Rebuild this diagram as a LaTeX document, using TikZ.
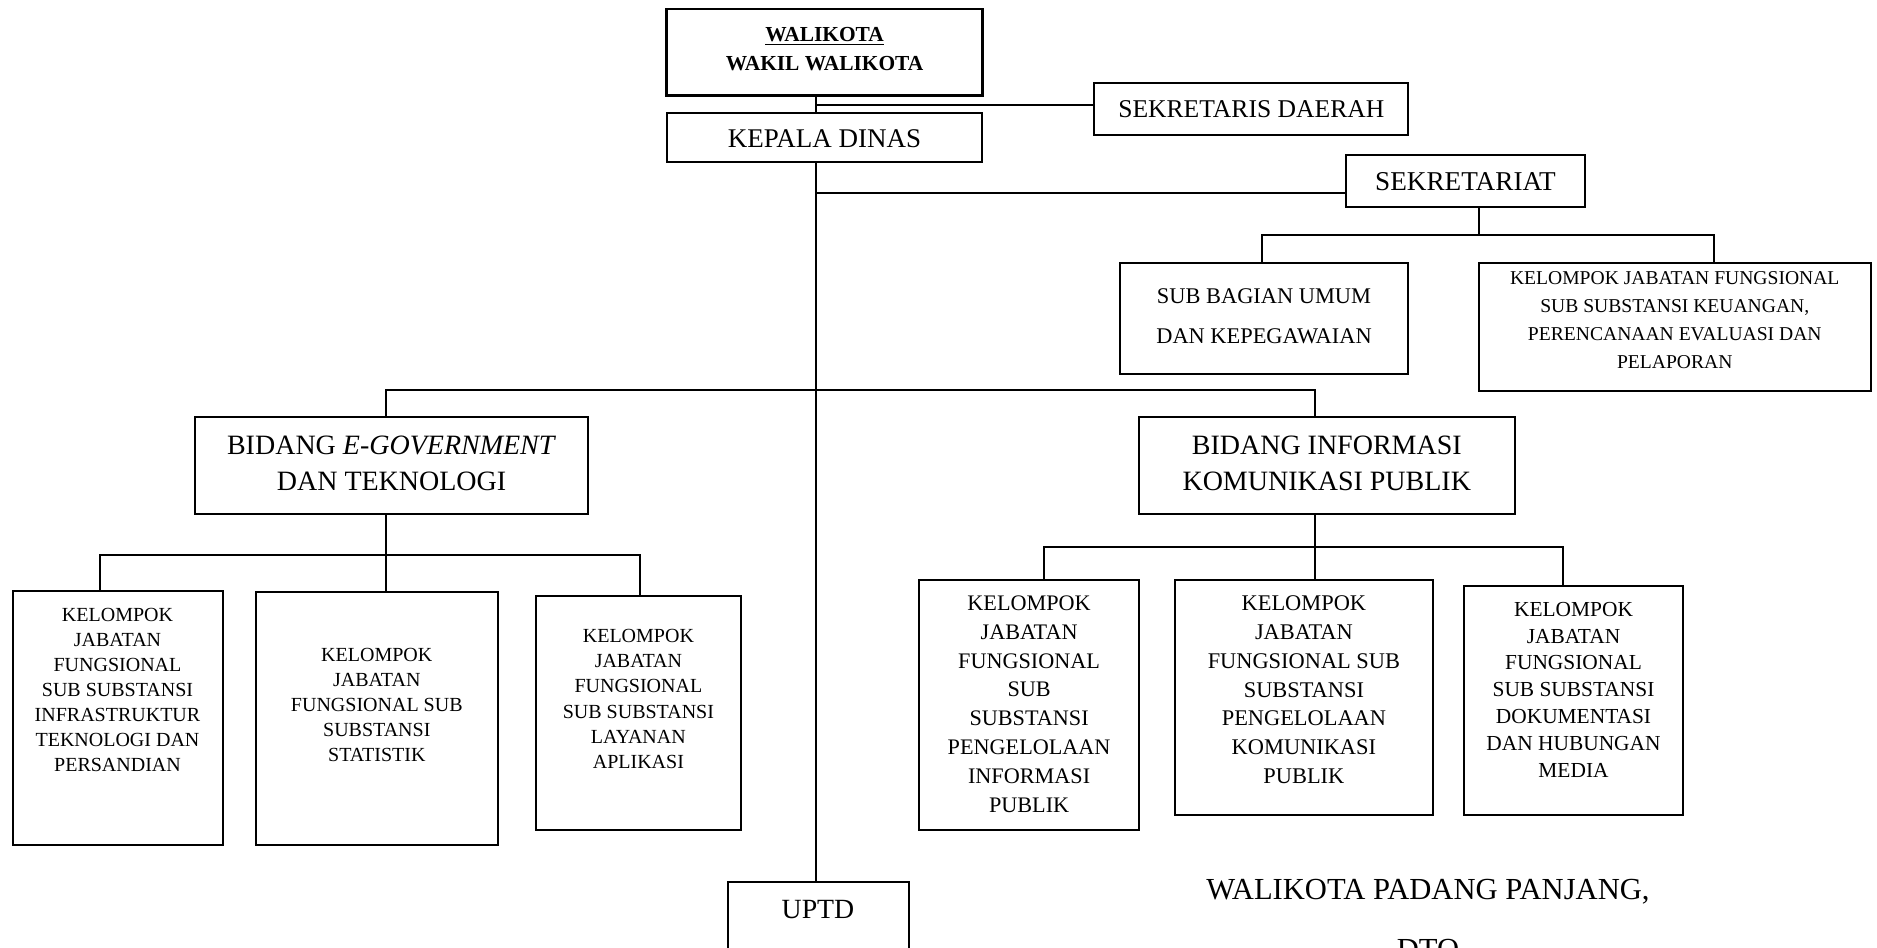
\documentclass[tikz,border=0pt]{standalone}
\usepackage{fontspec}
\setmainfont{Liberation Serif}
\tikzset{
  box/.style={draw, line width=1pt, inner sep=0pt, rectangle},
  txt/.style={inner sep=0pt, align=center},
  conn/.style={line width=1pt},
}
\newcommand{\fs}[2]{\fontsize{#1}{#2}\selectfont}
\begin{document}
\begin{tikzpicture}[x=0.5pt, y=-0.5pt]
\useasboundingbox (0,0) rectangle (1877,947);
\clip (0,0) rectangle (1877,947);

% ---------- boxes ----------
\node[box, line width=1.4pt, minimum width=157.85pt, minimum height=43.35pt] (wk) at (824.55,52.35) {};
\node[box, minimum width=157.85pt, minimum height=24.5pt] (kd) at (824.55,137.8) {};
\node[box, minimum width=157pt, minimum height=25.85pt] (sd) at (1251.3,109.15) {};
\node[box, minimum width=119.15pt, minimum height=26.15pt] (sk) at (1465.45,181.15) {};
\node[box, minimum width=144.2pt, minimum height=55.65pt] (sb) at (1264,318.35) {};
\node[box, minimum width=195.75pt, minimum height=64pt] (ku) at (1674.75,326.7) {};
\node[box, minimum width=196.2pt, minimum height=48.65pt] (eg) at (391.6,465.35) {};
\node[box, minimum width=188pt, minimum height=48.65pt] (ip) at (1326.8,465.35) {};
\node[box, minimum width=104.95pt, minimum height=127.15pt] (b1) at (117.75,717.85) {};
\node[box, minimum width=120.85pt, minimum height=126.35pt] (b2) at (376.85,718.65) {};
\node[box, minimum width=102.65pt, minimum height=117pt] (b3) at (638.35,713) {};
\node[box, minimum width=109.7pt, minimum height=125pt] (b4) at (1029.1,705) {};
\node[box, minimum width=129.35pt, minimum height=117.5pt] (b5) at (1303.85,697.5) {};
\node[box, minimum width=109.7pt, minimum height=114.5pt] (b6) at (1573.5,700.5) {};
\node[box, minimum width=90.45pt, minimum height=59.15pt] (up) at (818.25,940.85) {};

% ---------- texts ----------
\node[txt, font=\bfseries\fs{10.7}{14.2}] (wk-t) at (824.55,49) {\underline{WALIKOTA}\\WAKIL WALIKOTA};
\node[txt, font=\fs{13.5}{16}] (kd-t) at (824.55,138.3) {KEPALA DINAS};
\node[txt, font=\fs{12.8}{16}] (sd-t) at (1251.3,109.3) {SEKRETARIS DAERAH};
\node[txt, font=\fs{13.6}{16}] (sk-t) at (1465.45,181.7) {SEKRETARIAT};
\node[txt, font=\fs{11.2}{20}] (sb-t) at (1264,316.7) {SUB BAGIAN UMUM\\DAN KEPEGAWAIAN};
\node[txt, font=\fs{9.8}{13.9}] (ku-t) at (1674.75,320) {KELOMPOK JABATAN FUNGSIONAL\\SUB SUBSTANSI KEUANGAN,\\PERENCANAAN EVALUASI DAN\\PELAPORAN};
\node[txt, font=\fs{14}{18.3}] (eg-t) at (391.6,463.3) {BIDANG \textit{E-GOVERNMENT}\\DAN TEKNOLOGI};
\node[txt, font=\fs{14}{18.3}] (ip-t) at (1326.8,463.3) {BIDANG INFORMASI\\KOMUNIKASI PUBLIK};
\node[txt, font=\fs{10}{12.5}] (b1-t) at (117.5,690) {KELOMPOK\\JABATAN\\FUNGSIONAL\\SUB SUBSTANSI\\INFRASTRUKTUR\\TEKNOLOGI DAN\\PERSANDIAN};
\node[txt, font=\fs{10}{12.5}] (b2-t) at (376.8,705) {KELOMPOK\\JABATAN\\FUNGSIONAL SUB\\SUBSTANSI\\STATISTIK};
\node[txt, font=\fs{10}{12.6}] (b3-t) at (638.4,699) {KELOMPOK\\JABATAN\\FUNGSIONAL\\SUB SUBSTANSI\\LAYANAN\\APLIKASI};
\node[txt, font=\fs{11.1}{14.4}] (b4-t) at (1029.1,704) {KELOMPOK\\JABATAN\\FUNGSIONAL\\SUB\\SUBSTANSI\\PENGELOLAAN\\INFORMASI\\PUBLIK};
\node[txt, font=\fs{11.2}{14.4}] (b5-t) at (1303.9,689.7) {KELOMPOK\\JABATAN\\FUNGSIONAL SUB\\SUBSTANSI\\PENGELOLAAN\\KOMUNIKASI\\PUBLIK};
\node[txt, font=\fs{10.7}{13.4}] (b6-t) at (1573.5,689.7) {KELOMPOK\\JABATAN\\FUNGSIONAL\\SUB SUBSTANSI\\DOKUMENTASI\\DAN HUBUNGAN\\MEDIA};
\node[txt, font=\fs{13.9}{16}] (up-t) at (818,910) {UPTD};
\node[txt, font=\fs{15.3}{18}] (sign) at (1428,891.7) {WALIKOTA PADANG PANJANG,};
\node[txt, font=\fs{15.3}{18}, anchor=north] (dto) at (1428,939) {DTO};

% ---------- junction coordinates ----------
\coordinate (tx) at (816.4,0);      % main trunk x
\coordinate (jsd) at (816.4,105);   % to sekretaris daerah
\coordinate (jsk) at (816.4,193);   % to sekretariat
\coordinate (jbd) at (816.4,390);   % bidang bus
\coordinate (skx) at (1479,0);
\coordinate (skbus) at (0,235);
\coordinate (sbx) at (1262,0);
\coordinate (kux) at (1714.4,0);
\coordinate (egx) at (386,0);
\coordinate (ipx) at (1314.5,0);
\coordinate (egbus) at (0,555);
\coordinate (ipbus) at (0,547.3);
\coordinate (b1x) at (99.5,0);
\coordinate (b3x) at (640,0);
\coordinate (b4x) at (1043.9,0);
\coordinate (b6x) at (1563.3,0);

% ---------- connectors ----------
\draw[conn] (wk.south -| tx) -- (kd.north -| tx);
\draw[conn] (jsd) -- (jsd -| sd.west);
\draw[conn] (kd.south -| tx) -- (up.north -| tx);
\draw[conn] (jsk) -- (jsk -| sk.west);
% sekretariat subtree
\draw[conn] (sk.south -| skx) -- (skx |- skbus);
\draw[conn] (sb.north -| sbx) -- (sbx |- skbus) -- (kux |- skbus) -- (ku.north -| kux);
% bidang bus
\draw[conn] (eg.north -| egx) -- (egx |- jbd) -- (ipx |- jbd) -- (ip.north -| ipx);
% e-government subtree
\draw[conn] (eg.south -| egx) -- (b2.north -| egx);
\draw[conn] (b1.north -| b1x) -- (b1x |- egbus) -- (b3x |- egbus) -- (b3.north -| b3x);
% informasi subtree
\draw[conn] (ip.south -| ipx) -- (b5.north -| ipx);
\draw[conn] (b4.north -| b4x) -- (b4x |- ipbus) -- (b6x |- ipbus) -- (b6.north -| b6x);
\end{tikzpicture}
\end{document}
